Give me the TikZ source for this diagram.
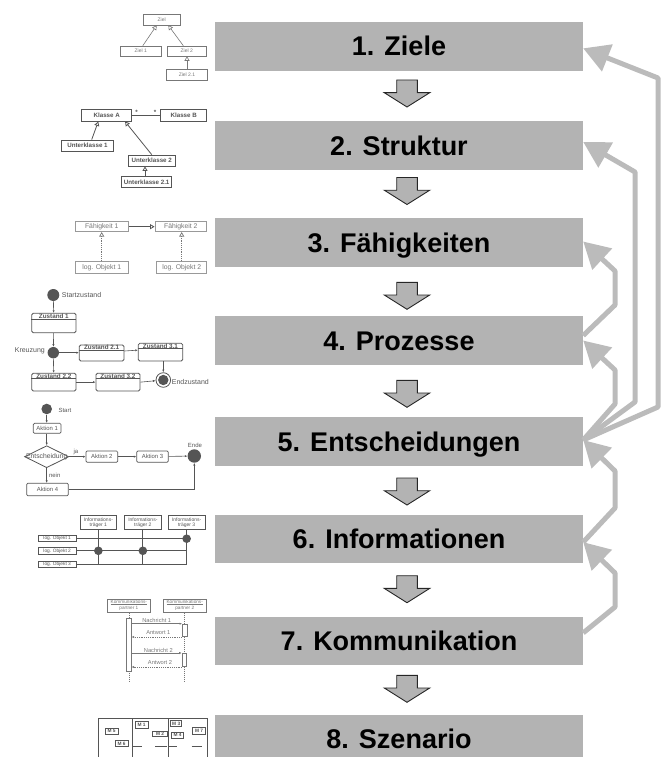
\documentclass[tikz,border=0pt]{standalone}
\usepackage{fontspec}
\setmainfont{Liberation Sans}
\usetikzlibrary{arrows.meta,shapes.geometric}
\definecolor{boxgray}{HTML}{B3B3B3}
\definecolor{fbgray}{HTML}{BBBBBB}
\definecolor{thdark}{HTML}{555555}
\definecolor{thmid}{HTML}{777777}
\definecolor{thlight}{HTML}{999999}
\tikzset{
  mainbox/.style={fill=boxgray, minimum width=368pt, minimum height=48.6pt, inner sep=0pt,
    font=\fontsize{27}{30}\selectfont\bfseries, text=black, text height=19pt, text depth=0pt},
  fb/.style={draw=fbgray, line width=5pt, line join=round, -{Triangle[length=26pt,width=28pt]}},
  dnarrow/.pic={\draw[fill=boxgray, draw=black!85, line width=0.9pt]
     (-10.3,-27) -- (10.3,-27) -- (10.3,-14.3) -- (22.7,-14.3) -- (0,0) -- (-22.7,-14.3) -- (-10.3,-14.3) -- cycle;},
  gen/.style={-{Triangle[open,length=4.5pt,width=5pt]}},
  flow/.style={-{Latex[length=2.6pt,width=2.2pt]}},
  tb/.style={draw=#1, fill=white, line width=0.6pt, inner sep=0pt},
  t1/.style={tb=thmid, text=thmid, font=\fontsize{5}{6}\selectfont},
  t2/.style={tb=thdark, line width=0.8pt, text=thdark, font=\fontsize{6.2}{7}\selectfont\bfseries},
  t3/.style={tb=thlight, line width=0.7pt, text=thmid, font=\fontsize{6.8}{7}\selectfont},
  stb/.style={draw=thdark, line width=0.8pt, rounded corners=1.5pt, fill=white, inner sep=0pt},
  ttl/.style={text=thdark, font=\fontsize{6.3}{7}\selectfont\bfseries, inner sep=0pt},
  lbl/.style={text=thdark, font=\fontsize{7}{8}\selectfont, inner sep=0pt},
  dot/.style={circle, fill=thdark, inner sep=0pt},
  actbox/.style={draw=thdark, line width=0.7pt, rounded corners=1.2pt, fill=white, inner sep=0pt,
    text=thdark, font=\fontsize{5.9}{6.5}\selectfont},
  slbl/.style={text=thdark, font=\fontsize{6}{6.5}\selectfont, inner sep=0pt},
  itbox/.style={tb=thdark, line width=0.7pt, text=thdark, font=\fontsize{5}{5.2}\selectfont, align=center},
  lobox/.style={tb=thdark, line width=0.9pt, text=thdark, font=\fontsize{4.8}{5}\selectfont},
  kpbox/.style={tb=thmid, line width=0.7pt, text=thmid, font=\fontsize{4.7}{4.8}\selectfont, align=center},
  actbar/.style={draw=thmid, line width=0.6pt, fill=white, inner sep=0pt},
  msg/.style={thmid, line width=0.6pt, flow},
  mlbl/.style={text=thmid, font=\fontsize{5.7}{6}\selectfont, inner sep=0pt},
  mbox/.style={tb=thdark, line width=0.8pt, text=thdark, font=\fontsize{4.8}{5}\selectfont\bfseries}
}
\begin{document}
\begin{tikzpicture}[x=1pt,y=-1pt]
\useasboundingbox (0,0) rectangle (662,757);
\clip (0,0) rectangle (662,757);

% ---------- main boxes ----------
\node[mainbox] (b1) at (399,46.35) {1. Ziele};
\node[mainbox] (b2) at (399,145.5) {2. Struktur};
\node[mainbox] (b3) at (399,242.5) {3. Fähigkeiten};
\node[mainbox] (b4) at (399,340.5) {4. Prozesse};
\node[mainbox] (b5) at (399,441.5) {5. Entscheidungen};
\node[mainbox] (b6) at (399,539.15) {6. Informationen};
\node[mainbox] (b7) at (399,640.85) {7. Kommunikation};
\node[mainbox] (b8) at (399,739) {8. Szenario};

% ---------- down arrows ----------
\pic (d1) at (407,107) {dnarrow};
\pic (d2) at (407,204.5) {dnarrow};
\pic (d3) at (407,309.3) {dnarrow};
\pic (d4) at (407,407.3) {dnarrow};
\pic (d5) at (407,505) {dnarrow};
\pic (d6) at (407,602.7) {dnarrow};
\pic (d7) at (407,702.3) {dnarrow};

% ---------- feedback arrows ----------
\draw[fb] ([yshift=1.5pt]b5.east) -- (658,407) -- (658,78) -- ([yshift=-2pt]b1.east);
\draw[fb] ([yshift=1.5pt]b5.east) -- (635,402) -- (635,172) -- ([yshift=3.5pt]b2.east);
\draw[fb] ([yshift=1.5pt]b5.east) -- (615,404) -- (615,370) -- (b4.east);
\draw[fb] ([yshift=5pt]b4.east) -- (615,305) -- (615,271) -- ([yshift=1pt]b3.east);
\draw[fb] ([yshift=-3pt]b6.east) -- (615,508) -- (615,471) -- ([yshift=1.5pt]b5.east);
\draw[fb] ([yshift=8pt]b7.east) -- (615,607) -- (615,573) -- ([yshift=-3pt]b6.east);

% ---------- T1: Ziele ----------
\node[t1, minimum width=36.7pt, minimum height=11pt] (z0) at (161.7,19.5) {Ziel};
\node[t1, minimum width=41.7pt, minimum height=10pt] (z1) at (140.8,51) {Ziel 1};
\node[t1, minimum width=38.7pt, minimum height=10pt] (z2) at (186.7,51) {Ziel 2};
\node[t1, minimum width=40.6pt, minimum height=10.7pt] (z21) at (187,74.7) {Ziel 2.1};
\draw[thmid, line width=0.6pt, gen] ([xshift=2pt]z1.north) -- ([xshift=-5pt]z0.south);
\draw[thmid, line width=0.6pt, gen] ([xshift=-3.4pt]z2.north) -- ([xshift=6.6pt]z0.south);
\draw[thmid, line width=0.6pt, gen] (z21.north) -- (z21.north |- z2.south);

% ---------- T2: Struktur ----------
\node[t2, minimum width=50pt, minimum height=11.7pt] (ka) at (106.7,115.2) {Klasse A};
\node[t2, minimum width=46pt, minimum height=11.7pt] (kb) at (183.7,115.2) {Klasse B};
\node[t2, minimum width=51.6pt, minimum height=11pt] (u1) at (87.5,145.5) {Unterklasse 1};
\node[t2, minimum width=46.7pt, minimum height=11pt] (u2) at (151.7,160.5) {Unterklasse 2};
\node[t2, minimum width=50pt, minimum height=10.6pt] (u21) at (146.7,182) {Unterklasse 2.1};
\draw[thdark, line width=0.8pt] (ka.east) -- (kb.west);
\node[text=thdark, font=\fontsize{6.2}{7}\selectfont\bfseries, inner sep=0pt] (s1) at (136.7,112.5) {*};
\node[text=thdark, font=\fontsize{6.2}{7}\selectfont\bfseries, inner sep=0pt] (s2) at (155,112.5) {*};
\draw[thdark, line width=0.8pt, gen] ([xshift=4.2pt]u1.north) -- ([xshift=-8.4pt]ka.south);
\draw[thdark, line width=0.8pt, gen] (u2.north) -- ([xshift=18.3pt]ka.south);
\draw[thdark, line width=0.8pt, gen] ([xshift=-1.7pt]u21.north) -- ([xshift=-6.7pt]u2.south);

% ---------- T3: Faehigkeiten ----------
\node[t3, minimum width=53.3pt, minimum height=10pt] (f1) at (101.7,226.7) {Fähigkeit 1};
\node[t3, minimum width=51.7pt, minimum height=10pt] (f2) at (180.8,226.7) {Fähigkeit 2};
\node[t3, minimum width=53.3pt, minimum height=11.6pt] (o1) at (101.7,267.5) {log. Objekt 1};
\node[t3, minimum width=50pt, minimum height=11.6pt] (o2) at (181.7,267.5) {log. Objekt 2};
\draw[thdark, line width=0.8pt, gen] (f1.east) -- (f2.west);
\draw[thmid, line width=0.7pt, dash pattern=on 1.2pt off 1pt, gen] (o1.north) -- (f1.south);
\draw[thmid, line width=0.7pt, dash pattern=on 1.2pt off 1pt, gen] (o2.north) -- (o2.north |- f2.south);

% ---------- T4: Prozesse ----------
\node[dot, minimum size=12pt] (sc) at (53.3,295) {};
\node[lbl, anchor=west] (sct) at (61.7,295) {Startzustand};
\node[stb, minimum width=44.3pt, minimum height=19.4pt] (zs1) at (53.85,323) {};
\node[ttl] (zs1t) at ([yshift=-3.4pt]zs1.north) {Zustand 1};
\draw[thdark, line width=0.6pt] ([yshift=-6.7pt]zs1.north west) -- ([yshift=-6.7pt]zs1.north east);
\node[dot, minimum size=11.4pt] (kr) at (53.3,352.7) {};
\node[lbl, anchor=east] (krt) at (45,351) {Kreuzung};
\node[stb, minimum width=44.7pt, minimum height=16pt] (zs21) at (101.65,353) {};
\node[ttl] (zs21t) at ([yshift=-2.9pt]zs21.north) {Zustand 2.1};
\draw[thdark, line width=0.6pt] ([yshift=-5.7pt]zs21.north west) -- ([yshift=-5.7pt]zs21.north east);
\node[stb, minimum width=44.4pt, minimum height=17.7pt] (zs31) at (160.5,352.15) {};
\node[ttl] (zs31t) at ([yshift=-2.9pt]zs31.north) {Zustand 3.1};
\draw[thdark, line width=0.6pt] ([yshift=-5.7pt]zs31.north west) -- ([yshift=-5.7pt]zs31.north east);
\node[stb, minimum width=44.3pt, minimum height=17.7pt] (zs22) at (53.85,382.15) {};
\node[ttl] (zs22t) at ([yshift=-2.9pt]zs22.north) {Zustand 2.2};
\draw[thdark, line width=0.6pt] ([yshift=-5.7pt]zs22.north west) -- ([yshift=-5.7pt]zs22.north east);
\node[stb, minimum width=44pt, minimum height=17.7pt] (zs32) at (118,382.15) {};
\node[ttl] (zs32t) at ([yshift=-2.9pt]zs32.north) {Zustand 3.2};
\draw[thdark, line width=0.6pt] ([yshift=-5.7pt]zs32.north west) -- ([yshift=-5.7pt]zs32.north east);
\node[circle, draw=thdark, line width=0.8pt, fill=white, minimum size=14.6pt, inner sep=0pt] (ec) at (163.3,380) {};
\node[dot, minimum size=10.4pt] (eci) at (163.3,380) {};
\node[lbl, anchor=west] (ect) at (171.7,381.7) {Endzustand};
\draw[thdark, line width=0.6pt, flow] (sc) -- (zs1);
\draw[thdark, line width=0.6pt, flow] (zs1) -- (kr);
\draw[thdark, line width=0.6pt, flow] (kr.east) -- (kr.east -| zs21.west);
\draw[thdark, line width=0.6pt, flow] ([yshift=2pt]zs21.east) -- ([yshift=2pt]zs31.west);
\draw[thdark, line width=0.6pt, flow] (kr) -- (zs22);
\draw[thdark, line width=0.6pt, flow] (zs22.east) -- (zs22.east -| zs32.west);
\draw[thdark, line width=0.6pt, flow] (zs32.east) -- (ec);
\draw[thdark, line width=0.6pt, flow] (zs31.south -| ec.north) -- (ec.north);

% ---------- T5: Entscheidungen ----------
\node[dot, minimum size=10.6pt] (st) at (46.7,409) {};
\node[slbl, anchor=west] (stt) at (58.3,410) {Start};
\node[actbox, minimum width=27.7pt, minimum height=10pt] (a1) at (47.15,428.3) {Aktion 1};
\node[diamond, draw=thdark, line width=0.8pt, fill=white, minimum width=44.3pt, minimum height=22pt, inner sep=0pt] (dia) at (46.7,456.7) {};
\node[slbl, font=\fontsize{6.8}{7}\selectfont] (diat) at (46.7,456.7) {Entscheidung};
\node[slbl] (ja) at (76,452.3) {ja};
\node[actbox, minimum width=31.7pt, minimum height=11.3pt] (a2) at (101.85,456.65) {Aktion 2};
\node[actbox, minimum width=31.6pt, minimum height=11.3pt] (a3) at (152.5,456.65) {Aktion 3};
\node[dot, minimum size=13.4pt] (en) at (194.3,456) {};
\node[slbl] (ent) at (195,445) {Ende};
\node[slbl] (nein) at (54.7,475) {nein};
\node[actbox, minimum width=41.6pt, minimum height=12.4pt] (a4) at (47.5,489.5) {Aktion 4};
\draw[thdark, line width=0.6pt, flow] (st) -- (st |- a1.north);
\draw[thdark, line width=0.6pt, flow] (a1.south -| dia.north) -- (dia.north);
\draw[thdark, line width=0.6pt, flow] (dia.east) -- (dia.east -| a2.west);
\draw[thdark, line width=0.6pt, flow] (a2) -- (a3);
\draw[thdark, line width=0.6pt, flow] (a3) -- (en);
\draw[thdark, line width=0.6pt, flow] (dia.south) -- (dia.south |- a4.north);
\draw[thdark, line width=0.6pt, flow] (a4.east) -| (en.south);

% ---------- T6: Informationen ----------
\node[itbox, minimum width=36.7pt, minimum height=13.3pt] (it1) at (98.35,522.35) {Informations-\\träger 1};
\node[itbox, minimum width=37.7pt, minimum height=13.3pt] (it2) at (142.85,522.35) {Informations-\\träger 2};
\node[itbox, minimum width=36.7pt, minimum height=13.3pt] (it3) at (186.65,522.35) {Informations-\\träger 3};
\node[lobox, minimum width=37.7pt, minimum height=6.4pt] (lo1) at (57.15,538.7) {log. Objekt 1};
\node[lobox, minimum width=37.7pt, minimum height=7pt] (lo2) at (57.15,550.8) {log. Objekt 2};
\node[lobox, minimum width=37.7pt, minimum height=6.7pt] (lo3) at (57.15,564.35) {log. Objekt 3};
\draw[thdark, line width=0.8pt] (lo1.east) -- (lo1.east -| it3.south);
\draw[thdark, line width=0.8pt] (lo2.east) -- (lo2.east -| it3.south);
\draw[thdark, line width=0.8pt] (lo3.east) -- (lo3.east -| it3.south);
\draw[thdark, line width=0.8pt] (it1.south) -- (it1.south |- lo3.east);
\draw[thdark, line width=0.8pt] (it2.south) -- (it2.south |- lo3.east);
\draw[thdark, line width=0.8pt] (it3.south) -- (it3.south |- lo3.east);
\node[dot, minimum size=8.6pt] (dt1) at (it1.south |- lo2.east) {};
\node[dot, minimum size=8.6pt] (dt2) at (it2.south |- lo2.east) {};
\node[dot, minimum size=8.6pt] (dt3) at (it3.south |- lo1.east) {};

% ---------- T7: Kommunikation ----------
\node[kpbox, minimum width=43.2pt, minimum height=10pt] (kp1) at (128.9,606) {\underline{Kommunikations-}\\\underline{partner 1}};
\node[kpbox, minimum width=43.5pt, minimum height=10pt] (kp2) at (184.75,606) {\underline{Kommunikations-}\\\underline{partner 2}};
\draw[thmid, line width=0.6pt, dash pattern=on 1pt off 1pt] (kp1.south) -- ([yshift=-69pt]kp1.south);
\draw[thmid, line width=0.6pt, dash pattern=on 1pt off 1pt] (kp2.south) -- ([yshift=-69pt]kp2.south);
\node[actbar, minimum width=4.4pt, minimum height=52.7pt] (ab1) at (128.9,644.65) {};
\node[actbar, minimum width=4.6pt, minimum height=12.7pt] (ab2) at (184.75,630.35) {};
\node[actbar, minimum width=3.8pt, minimum height=13.4pt] (ab3) at (184,660) {};
\draw[msg] (ab2.north west -| ab1.east) -- (ab2.north west);
\draw[msg, dash pattern=on 1.2pt off 1pt] (ab2.south west) -- (ab2.south west -| ab1.east);
\draw[msg] (ab3.north west -| ab1.east) -- (ab3.north west);
\draw[msg, dash pattern=on 1.2pt off 1pt] (ab3.south west) -- (ab3.south west -| ab1.east);
\node[mlbl] (nm1) at (156.7,620.5) {Nachricht 1};
\node[mlbl] (aw1) at (158.3,632.5) {Antwort 1};
\node[mlbl] (nm2) at (158.3,650) {Nachricht 2};
\node[mlbl] (aw2) at (160,662.5) {Antwort 2};

% ---------- T8: Szenario ----------
\draw[thdark, line width=0.8pt] (98.3,757) -- (98.3,718.3) -- (207.5,718.3) -- (207.5,757);
\draw[thdark, line width=0.8pt] (132.7,718.3) -- (132.7,757);
\draw[thdark, line width=0.8pt] (168.3,718.3) -- (168.3,757);
\draw[thdark, line width=0.8pt] (132.7,746.7) -- (141.7,746.7);
\draw[thdark, line width=0.8pt] (155,746.7) -- (167.3,746.7);
\draw[thdark, line width=0.8pt] (168.3,746.7) -- (176.7,746.7);
\draw[thdark, line width=0.8pt] (191.7,746.7) -- (201.7,746.7);
\node[mbox, minimum width=13.3pt, minimum height=6.6pt] (m1) at (141.65,725) {M 1};
\node[mbox, minimum width=14.6pt, minimum height=5.8pt] (m2) at (160,733.85) {M 2};
\node[mbox, minimum width=11pt, minimum height=6pt] (m3) at (176.2,723.7) {M 3};
\node[mbox, minimum width=11.6pt, minimum height=6pt] (m4) at (177.5,735.3) {M 4};
\node[mbox, minimum width=13.3pt, minimum height=5.8pt] (m5) at (111.65,731.15) {M 5};
\node[mbox, minimum width=13.3pt, minimum height=6pt] (m6) at (121.65,743.7) {M 6};
\node[mbox, minimum width=12.5pt, minimum height=6.3pt] (m7) at (199,731) {M 7};
\end{tikzpicture}
\end{document}
